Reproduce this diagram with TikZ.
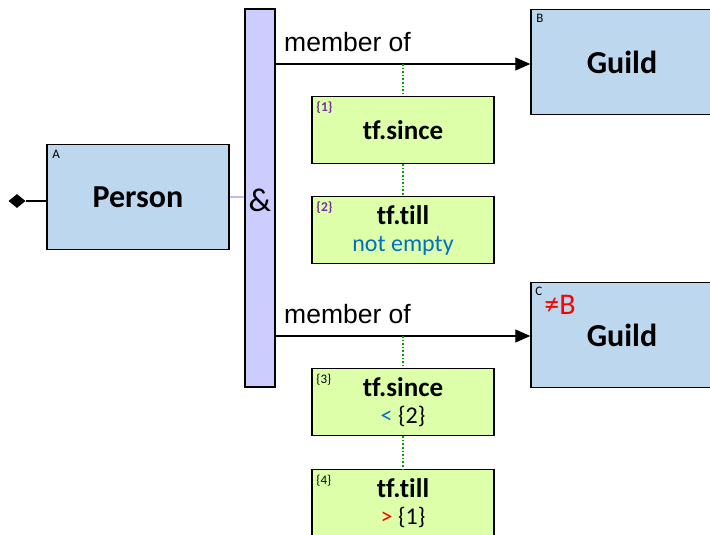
\documentclass[tikz,border=0pt]{standalone}
\usepackage{fontspec}
\setmainfont{Carlito}[Ligatures={NoCommon}]
\newfontfamily\arialfont{Liberation Sans}
\usetikzlibrary{arrows.meta,shapes.geometric}
\definecolor{boxblue}{RGB}{189,215,238}
\definecolor{boxgreen}{RGB}{221,255,170}
\definecolor{barlav}{RGB}{204,204,255}
\definecolor{linelav}{RGB}{190,190,240}
\definecolor{lblpurple}{RGB}{112,48,160}
\definecolor{txtblue}{RGB}{0,112,192}
\definecolor{dotgreen}{RGB}{0,160,0}
\newcommand\mysubfont{\fontsize{24}{28}\selectfont\mdseries}
\tikzset{
  entity/.style={draw=black, line width=1.5pt, fill=boxblue, minimum width=182pt, minimum height=105pt, inner sep=0pt, font=\fontsize{32}{37}\selectfont\bfseries},
  tfbox/.style={draw=black, line width=1.5pt, fill=boxgreen, minimum width=182pt, minimum height=67pt, inner sep=0pt, align=center, font=\fontsize{27}{31}\selectfont\bfseries},
  andbar/.style={draw=black, line width=1.2pt, fill=barlav, minimum width=30pt, minimum height=378pt, inner sep=0pt},
  cornerlbl/.style={anchor=north west, inner sep=0pt, font=\fontsize{13}{15}\selectfont},
  numlbl/.style={anchor=north west, inner sep=0pt, font=\fontsize{13.5}{15}\selectfont\bfseries, text=lblpurple},
  rel/.style={line width=1.3pt, -{Triangle[length=15pt,width=13pt]}},
  reltext/.style={anchor=south west, inner sep=0pt, font=\arialfont\fontsize{26.5}{30}\selectfont},
  qual/.style={dotgreen, line width=1.6pt, dotted},
}
\begin{document}
\begin{tikzpicture}[x=1pt,y=-1pt]
\clip (0,0) rectangle (710,535);
\fill[white] (0,0) rectangle (710,535);

% main entity
\node[entity] (person) at (138,197) {Person};
\node[cornerlbl] (lblA) at ([xshift=6pt,yshift=-6pt]person.north west) {A};
\node[diamond, fill=black, inner sep=0pt, minimum width=17pt, minimum height=14pt] (root) at (17,201) {};
\draw[line width=1.3pt] (root.east) -- (person.west |- root.east);

% AND bar
\node[andbar] (bar) at (260,198) {};
\node[font=\fontsize{33}{36}\selectfont, inner sep=0pt] (amp) at (260,200) {\&};
\draw[linelav, line width=1.5pt] (person.east) -- (bar.west |- person.east);

% first relation
\node[entity] (guildB) at (622,62) {Guild};
\node[cornerlbl] (lblB) at ([xshift=6pt,yshift=-5pt]guildB.north west) {B};
\draw[rel] (bar.east |- 0,64) coordinate (r1s) -- (guildB.west |- r1s) coordinate (r1e);
\node[reltext] (mem1) at (284,52) {member of};
\coordinate (q1) at (403,64);
\node[tfbox] (since1) at (403,130) {tf.since};
\node[numlbl] (n1) at ([xshift=5pt,yshift=-6pt]since1.north west) {\{1\}};
\node[tfbox] (till1) at (403,230) {tf.till\\[-4pt]{\mysubfont\color{txtblue}not empty}};
\node[numlbl] (n2) at ([xshift=5pt,yshift=-6pt]till1.north west) {\{2\}};
\draw[qual] (q1) -- (since1.north);
\draw[qual] (since1.south) -- (till1.north);

% second relation
\node[entity] (guildC) at (622,335) {Guild};
\node[cornerlbl] (lblC) at ([xshift=5pt,yshift=-5pt]guildC.north west) {C};
\node[anchor=west, inner sep=0pt, text=red, font=\fontsize{30}{33}\selectfont] (neqB) at ([xshift=14pt,yshift=-23pt]guildC.north west) {≠B};
\draw[rel] (bar.east |- 0,336) coordinate (r2s) -- (guildC.west |- r2s) coordinate (r2e);
\node[reltext] (mem2) at (284,324) {member of};
\coordinate (q2) at (403,336);
\node[tfbox] (since2) at (403,402) {tf.since\\[-4pt]{\mysubfont{\color{txtblue}<} \{2\}}};
\node[cornerlbl] (n3) at ([xshift=5pt,yshift=-6pt]since2.north west) {\{3\}};
\node[tfbox] (till2) at (403,503) {tf.till\\[-4pt]{\mysubfont{\color{red}>} \{1\}}};
\node[cornerlbl] (n4) at ([xshift=5pt,yshift=-6pt]till2.north west) {\{4\}};
\draw[qual] (q2) -- (since2.north);
\draw[qual] (since2.south) -- (till2.north);
\end{tikzpicture}
\end{document}
